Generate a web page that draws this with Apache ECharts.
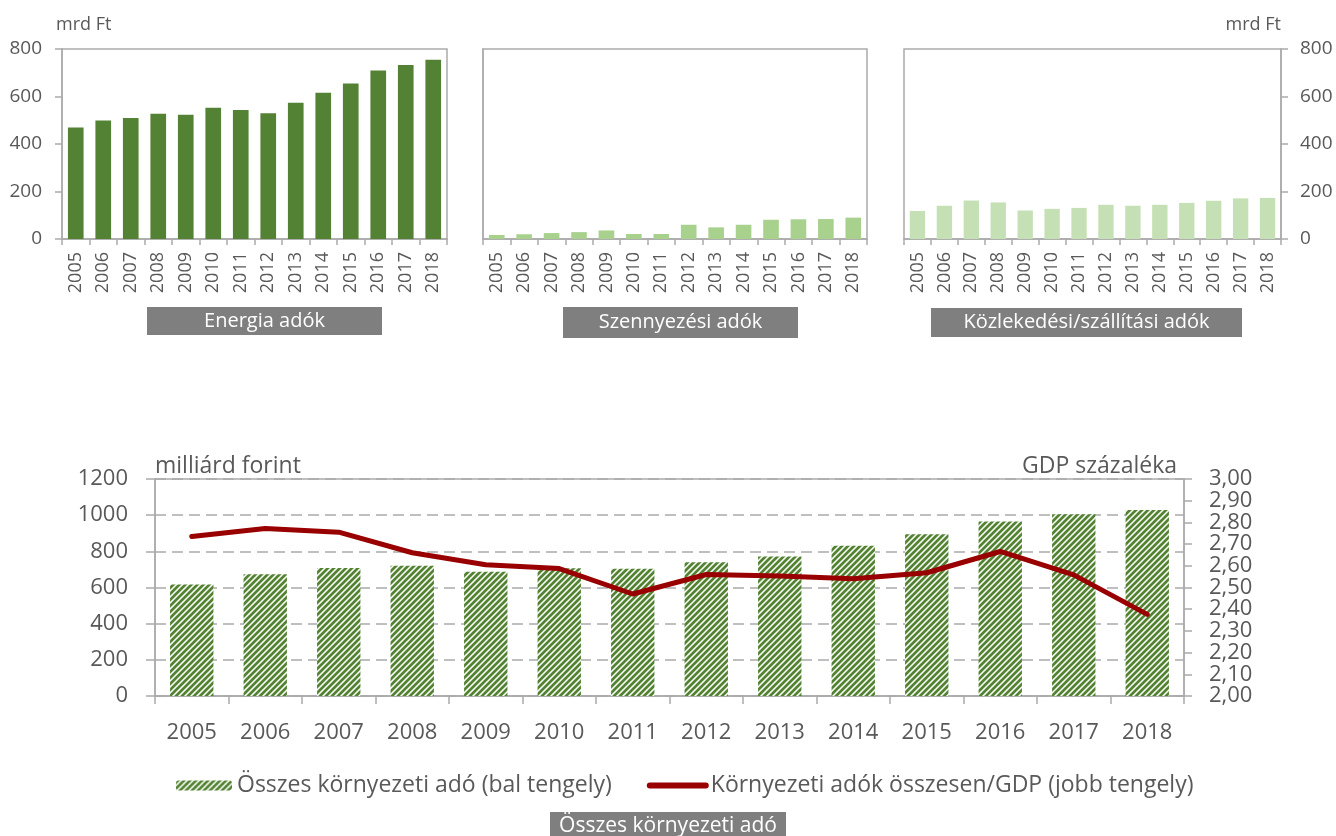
<!DOCTYPE html>
<html>
<head>
<meta charset="utf-8">
<script src="https://cdn.jsdelivr.net/npm/echarts@6/dist/echarts.min.js"></script>
<style>
  html, body { margin: 0; padding: 0; background: #ffffff; }
  #chart { width: 1336px; height: 836px; }
</style>
</head>
<body>
<div id="chart"></div>
<script>
// Környezeti adók, 2005–2018 (mrd Ft, ill. a GDP százalékában)
const years = ['2005', '2006', '2007', '2008', '2009', '2010', '2011',
               '2012', '2013', '2014', '2015', '2016', '2017', '2018'];

const energyTaxes    = [470, 499, 509, 527, 523, 553, 543, 530, 574, 616, 655, 709, 733, 755];
const pollutionTaxes = [17, 20, 25, 29, 36, 21, 21, 60, 49, 60, 81, 83, 84, 90];
const transportTaxes = [118, 140, 162, 154, 120, 127, 131, 144, 140, 144, 152, 161, 171, 173];

const totalTaxes = [616, 673, 708, 720, 687, 706, 704, 739, 772, 831, 895, 965, 1005, 1029];
const taxesToGdp = [2.735, 2.772, 2.755, 2.660, 2.605, 2.587, 2.470, 2.560, 2.553, 2.540, 2.568, 2.666, 2.558, 2.376];

const panelTitles = ['Energia adók', 'Szennyezési adók', 'Közlekedési/szállítási adók'];
const bottomTitle = 'Összes környezeti adó';
const seriesNames = ['Összes környezeti adó (bal tengely)', 'Környezeti adók összesen/GDP (jobb tengely)'];

const smallAxis = { min: 0, max: 800, interval: 200 };
const leftAxis  = { min: 0, max: 1200, interval: 200 };
const rightAxis = { min: 2, max: 3, interval: 0.1 };

const FONT = "'Open Sans', sans-serif";
const TEXT = '#595959';
const AXIS = '#ababab';
const GREEN = '#548235';
const RED = '#990000';

// diagonal "////" hatch used for the total-tax bars
function hatchPattern() {
  const size = 6;
  const c = document.createElement('canvas');
  c.width = size; c.height = size;
  const g = c.getContext('2d');
  const img = g.createImageData(size, size);
  for (let y = 0; y < size; y++) {
    for (let x = 0; x < size; x++) {
      const k = (x + y) % size;
      let rgb;
      if (k < 3) rgb = [84, 130, 53];
      else if (k === 3 || k === 5) rgb = [180, 204, 162];
      else rgb = [255, 255, 255];
      const i = (y * size + x) * 4;
      img.data[i] = rgb[0]; img.data[i + 1] = rgb[1]; img.data[i + 2] = rgb[2]; img.data[i + 3] = 255;
    }
  }
  g.putImageData(img, 0, 0);
  return { image: c, repeat: 'repeat' };
}

const chart = echarts.init(document.getElementById('chart'), null, { renderer: 'canvas' });

const panelGrids = [
  { left: 62,  top: 49, width: 385, height: 190 },
  { left: 483, top: 49, width: 384, height: 190 },
  { left: 904, top: 49, width: 377, height: 190 }
];

const plain = v => String(v);
const pct = v => v.toFixed(2).replace('.', ',');
// the percentage labels are split over two coincident axes: even tenths on one, odd tenths on the other
const oddTenths = v => (Math.round(v * 10) % 2 === 1 ? pct(v) : '');

function smallXAxis(i) {
  return {
    gridIndex: i, type: 'category', data: years,
    axisLine: { show: true, lineStyle: { color: AXIS, width: 1.5 } },
    axisTick: { show: true, length: 6, lineStyle: { color: AXIS, width: 1.5 } },
    axisLabel: { rotate: 90, margin: 13, color: TEXT, fontSize: 18, fontFamily: FONT }
  };
}

function smallYAxis(i, opts) {
  return Object.assign({
    gridIndex: i, type: 'value',
    min: smallAxis.min, max: smallAxis.max, interval: smallAxis.interval,
    axisLine: { show: true, lineStyle: { color: AXIS, width: 1.5 } },
    axisTick: { show: true, length: 7, lineStyle: { color: AXIS, width: 1.5 } },
    axisLabel: { show: true, margin: 20, color: TEXT, fontSize: 19, fontFamily: FONT, formatter: plain },
    splitLine: { show: false }
  }, opts);
}

const option = {
  backgroundColor: '#ffffff',
  animation: false,
  textStyle: { fontFamily: FONT },
  grid: [
    ...panelGrids.map(g => Object.assign({ show: true, borderColor: AXIS, borderWidth: 1.5, containLabel: false }, g)),
    { left: 155, top: 479, width: 1029, height: 217, show: true, borderColor: AXIS, borderWidth: 1.5 }
  ],
  xAxis: [
    smallXAxis(0), smallXAxis(1), smallXAxis(2),
    {
      gridIndex: 3, type: 'category', data: years,
      axisLine: { show: true, lineStyle: { color: AXIS, width: 1.5 } },
      axisTick: { show: true, length: 8, lineStyle: { color: AXIS, width: 1.5 } },
      axisLabel: { margin: 26, color: TEXT, fontSize: 22, fontFamily: FONT }
    }
  ],
  yAxis: [
    smallYAxis(0, {
      name: 'mrd Ft', nameLocation: 'end', nameGap: 15,
      nameTextStyle: { color: TEXT, fontSize: 18, fontFamily: FONT, align: 'left', padding: [0, 0, 0, -6] }
    }),
    smallYAxis(1, { axisTick: { show: false }, axisLabel: { show: false } }),
    smallYAxis(2, {
      position: 'right',
      axisLabel: { show: true, margin: 19, color: TEXT, fontSize: 19, fontFamily: FONT, formatter: plain },
      name: 'mrd Ft', nameLocation: 'end', nameGap: 15,
      nameTextStyle: { color: TEXT, fontSize: 18, fontFamily: FONT, align: 'right' }
    }),
    {
      gridIndex: 3, type: 'value',
      min: leftAxis.min, max: leftAxis.max, interval: leftAxis.interval,
      axisLine: { show: true, lineStyle: { color: AXIS, width: 1.5 } },
      axisTick: { show: true, length: 9, lineStyle: { color: AXIS, width: 1.5 } },
      axisLabel: { margin: 27, color: TEXT, fontSize: 22, fontFamily: FONT, formatter: plain },
      splitLine: { show: true, lineStyle: { color: AXIS, width: 1.5, type: [11, 6] } },
      name: 'milliárd forint', nameLocation: 'end', nameGap: 1,
      nameTextStyle: { color: TEXT, fontSize: 23, fontFamily: FONT, align: 'left' }
    },
    {
      gridIndex: 3, type: 'value', position: 'right',
      min: rightAxis.min, max: rightAxis.max, interval: rightAxis.interval,
      axisLine: { show: true, lineStyle: { color: AXIS, width: 1.5 } },
      axisTick: { show: true, length: 8, lineStyle: { color: AXIS, width: 1.5 } },
      axisLabel: { margin: 25, color: TEXT, fontSize: 22, fontFamily: FONT, formatter: oddTenths },
      splitLine: { show: false },
      name: 'GDP százaléka', nameLocation: 'end', nameGap: 1,
      nameTextStyle: { color: TEXT, fontSize: 23, fontFamily: FONT, align: 'right', padding: [0, 7, 0, 0] }
    },
    {
      gridIndex: 3, type: 'value', position: 'right',
      min: rightAxis.min, max: rightAxis.max, interval: rightAxis.interval * 2,
      axisLine: { show: false },
      axisTick: { show: false },
      axisLabel: { margin: 25, color: TEXT, fontSize: 22, fontFamily: FONT, formatter: pct },
      splitLine: { show: false }
    }
  ],
  legend: {
    left: 176, top: 774, padding: 0,
    itemWidth: 56, itemHeight: 10, itemGap: 35,
    textStyle: { color: TEXT, fontSize: 23, fontFamily: FONT },
    data: [
      { name: seriesNames[0] },
      { name: seriesNames[1], itemStyle: { opacity: 0 }, lineStyle: { width: 6, cap: 'round', color: RED } }
    ]
  },
  series: [
    { type: 'bar', xAxisIndex: 0, yAxisIndex: 0, data: energyTaxes, barCategoryGap: '43%',
      itemStyle: { color: GREEN } },
    { type: 'bar', xAxisIndex: 1, yAxisIndex: 1, data: pollutionTaxes, barCategoryGap: '43%',
      itemStyle: { color: '#a9d18e' } },
    { type: 'bar', xAxisIndex: 2, yAxisIndex: 2, data: transportTaxes, barCategoryGap: '43%',
      itemStyle: { color: '#c5e0b4' } },
    { name: seriesNames[0], type: 'bar', xAxisIndex: 3, yAxisIndex: 3, data: totalTaxes,
      barCategoryGap: '41%', itemStyle: { color: hatchPattern() } },
    { name: seriesNames[1], type: 'line', xAxisIndex: 3, yAxisIndex: 4, data: taxesToGdp,
      symbol: 'none', smooth: false, z: 5,
      itemStyle: { color: RED },
      lineStyle: { color: RED, width: 5, cap: 'round', join: 'round' } }
  ],
  graphic: [
    { type: 'rect', shape: { x: 147, y: 307, width: 235, height: 28 }, style: { fill: '#7f7f7f' } },
    { type: 'text', x: 264.5, y: 321, style: { text: panelTitles[0], fill: '#ffffff', font: '20px ' + FONT, align: 'center', verticalAlign: 'middle' } },
    { type: 'rect', shape: { x: 563, y: 307, width: 235, height: 31 }, style: { fill: '#7f7f7f' } },
    { type: 'text', x: 680.5, y: 322.5, style: { text: panelTitles[1], fill: '#ffffff', font: '20px ' + FONT, align: 'center', verticalAlign: 'middle' } },
    { type: 'rect', shape: { x: 931, y: 308, width: 311, height: 29 }, style: { fill: '#7f7f7f' } },
    { type: 'text', x: 1086.5, y: 322.5, style: { text: panelTitles[2], fill: '#ffffff', font: '20px ' + FONT, align: 'center', verticalAlign: 'middle' } },
    { type: 'rect', shape: { x: 550, y: 812, width: 236, height: 30 }, style: { fill: '#7f7f7f' } },
    { type: 'text', x: 668, y: 826, style: { text: bottomTitle, fill: '#ffffff', font: '21px ' + FONT, align: 'center', verticalAlign: 'middle' } }
  ]
};

chart.setOption(option);
</script>
</body>
</html>
